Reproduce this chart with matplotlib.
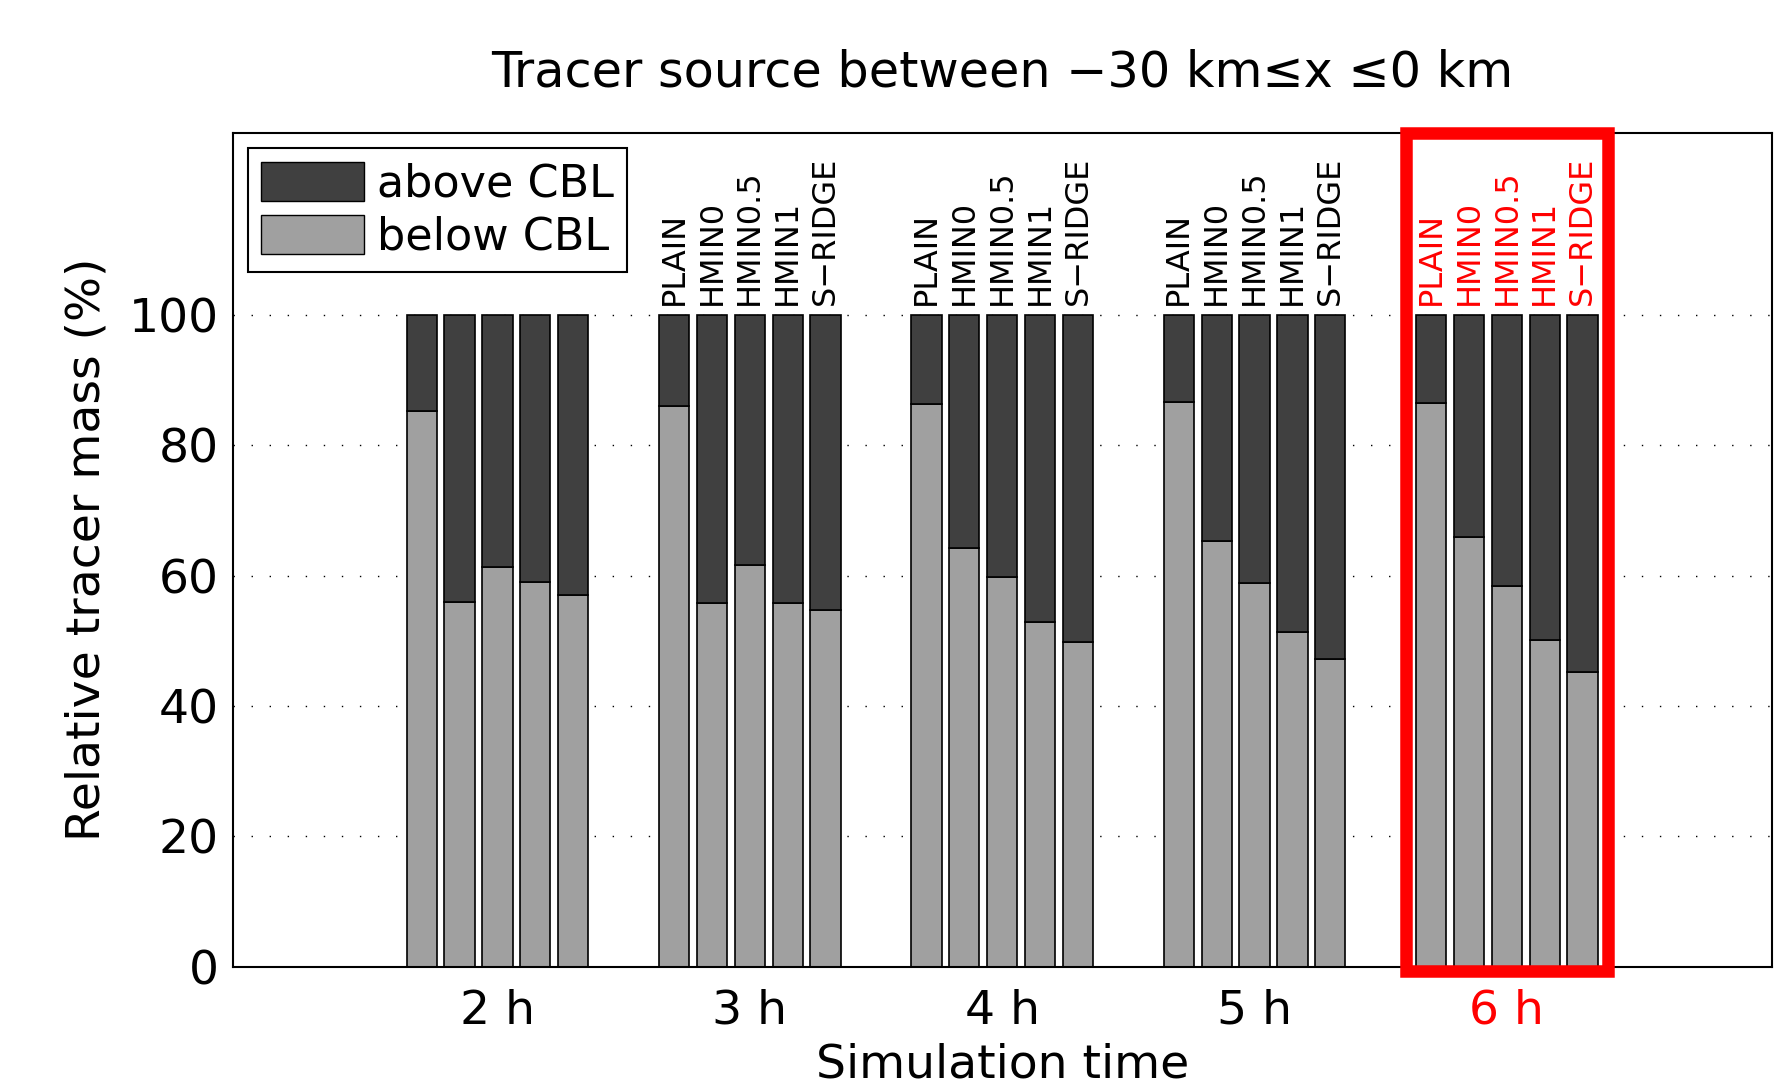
import numpy as np
import matplotlib
matplotlib.use("Agg")
import matplotlib.pyplot as plt
from matplotlib.patches import Rectangle, Patch

# simulation times (group labels) and experiments (bars in each group)
times = [2, 3, 4, 5, 6]
time_labels = ["2 h", "3 h", "4 h", "5 h", "6 h"]
experiments = ["PLAIN", "HMIN0", "HMIN0.5", "HMIN1", "S\u2212RIDGE"]

# relative tracer mass below CBL (%) per experiment, for 2 h ... 6 h
below_plain = [85.3, 86.1, 86.3, 86.6, 86.5]
below_hmin0 = [56.0, 55.8, 64.3, 65.4, 66.0]
below_hmin05 = [61.3, 61.6, 59.8, 58.9, 58.5]
below_hmin1 = [59.0, 55.8, 52.9, 51.3, 50.2]
below_sridge = [57.0, 54.7, 49.9, 47.3, 45.2]

below = [below_plain, below_hmin0, below_hmin05, below_hmin1, below_sridge]

DARK = "#404040"
LIGHT = "#a0a0a0"
FS = 34

fig = plt.figure(figsize=(17.79, 10.88), dpi=100)
ax = fig.add_axes([0.1307, 0.1115, 0.8653, 0.7665])

offset = 0.15
width = 0.12
for j, vals in enumerate(below):
    x = np.array(times) + (j - 2) * offset
    vals = np.array(vals)
    ax.bar(x, vals, width, color=LIGHT, edgecolor="black", linewidth=1.2)
    ax.bar(x, 100 - vals, width, bottom=vals, color=DARK, edgecolor="black", linewidth=1.2)

# experiment names above bars (not for the first group)
for t in times[1:]:
    col = "red" if t == 6 else "black"
    for j, name in enumerate(experiments):
        ax.text(t + (j - 2) * offset, 101.5, name, rotation=90, ha="center", va="bottom",
                fontsize=23, color=col)

# highlight box around last group
ax.add_patch(Rectangle((5.6, -0.6), 0.8, 128.6, fill=False, edgecolor="red",
                       linewidth=9, clip_on=False, zorder=5))

ax.set_xlim(0.95, 7.05)
ax.set_ylim(0, 128)
ax.set_yticks([0, 20, 40, 60, 80, 100])
ax.set_xticks(times)
ax.set_xticklabels(time_labels)
ax.get_xticklabels()[-1].set_color("red")
ax.tick_params(axis="x", labelsize=FS, length=0, pad=16)
ax.tick_params(axis="y", labelsize=FS, length=0, pad=10)
ax.yaxis.grid(True, color="black", linestyle=(0, (1, 12)), linewidth=1.0)
ax.set_axisbelow(True)
for s in ax.spines.values():
    s.set_linewidth(1.5)

ax.set_xlabel("Simulation time", fontsize=FS, labelpad=6)
ax.set_ylabel("Relative tracer mass (%)", fontsize=FS, labelpad=14)
ax.set_title("Tracer source between \u221230 km\u2264x \u22640 km", fontsize=35.5, pad=33)

handles = [Patch(facecolor=DARK, edgecolor="black"), Patch(facecolor=LIGHT, edgecolor="black")]
leg = ax.legend(handles, ["above CBL", "below CBL"], loc="upper left", fontsize=32,
                fancybox=False, framealpha=1, edgecolor="black",
                handlelength=2.3, handleheight=1.0, handletextpad=0.3,
                borderaxespad=0.35, borderpad=0.3, labelspacing=0.2)
leg.get_frame().set_linewidth(1.5)

fig.savefig("out.png", dpi=100)
